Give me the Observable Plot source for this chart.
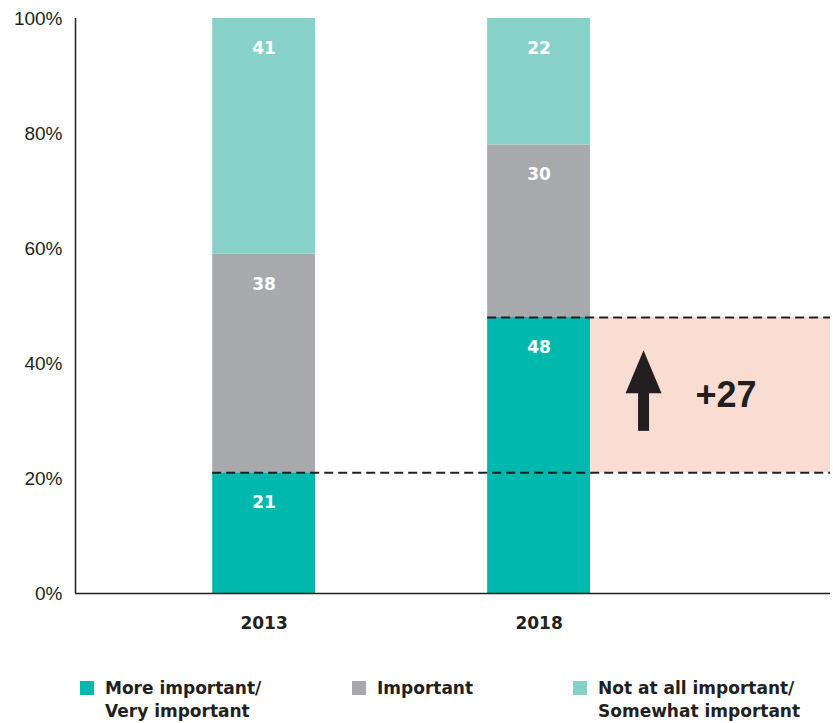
<!DOCTYPE html>
<html>
<head>
<meta charset="utf-8">
<script src="https://cdn.jsdelivr.net/npm/d3@7"></script>
<script src="https://cdn.jsdelivr.net/npm/@observablehq/plot@0.6"></script>
<style>
  html, body { margin: 0; padding: 0; background: #fff; }
  #wrap { position: relative; width: 833px; height: 723px; }
  #chart svg { display: block; }
  #legend { position: absolute; left: 0; top: 677px; width: 833px; font-family: "DejaVu Sans", sans-serif; font-weight: bold; font-size: 17px; color: #231f20; line-height: 23px; }
  .item { position: absolute; top: 0; }
  .sw { position: absolute; left: 0; top: 4px; width: 14px; height: 14px; }
  .lab { position: absolute; top: 0; white-space: nowrap; }
</style>
</head>
<body>
<div id="wrap">
  <div id="chart"></div>
  <div id="legend"></div>
</div>
<script>
// ---- data ----
const years = [2013, 2018];
const categories = ["More important/\nVery important", "Important", "Not at all important/\nSomewhat important"];
const moreImportant = [21, 48];
const important = [38, 30];
const notImportant = [41, 22];
const colors = ["#00b8ad", "#a7a9ac", "#88d1c9"];
const yTicks = [0, 20, 40, 60, 80, 100];

// ---- layout helpers ----
const series = [moreImportant, important, notImportant];
const X_DOMAIN = [2009.57, 2023.3];
const HALF = 0.935;

const rows = years.flatMap((yr, i) => {
  let acc = 0;
  return series.map((s, j) => {
    const v = s[i];
    const r = {year: yr, category: categories[j], value: v, y1: acc, y2: acc + v};
    acc += v;
    return r;
  });
});

const low = moreImportant[0], high = moreImportant[1];
const change = high - low;
const band = [{x1: years[1] + HALF, x2: X_DOMAIN[1], y1: low, y2: high}];
const dashes = [
  {y: low, x1: years[0] - HALF, x2: X_DOMAIN[1]},
  {y: high, x1: years[1] - HALF, x2: X_DOMAIN[1]}
];
const arrowX = 2019.9;
const mid = (low + high) / 2;
const arrowHead = {
  draw(ctx) {
    ctx.moveTo(0, 0);
    ctx.lineTo(-18, 43);
    ctx.lineTo(18, 43);
    ctx.closePath();
  }
};

const chart = Plot.plot({
  width: 833,
  height: 650,
  marginTop: 18,
  marginBottom: 57,
  marginLeft: 75,
  marginRight: 3,
  style: {background: "white", overflow: "visible"},
  x: {type: "linear", domain: X_DOMAIN, axis: null, label: null},
  y: {domain: [0, 100], axis: null, label: null},
  color: {domain: categories, range: colors},
  marks: [
    Plot.rect(band, {x1: "x1", x2: "x2", y1: "y1", y2: "y2", fill: "#f9ddd3", insetLeft: 1}),
    Plot.rect(rows, {x1: d => d.year - HALF, x2: d => d.year + HALF, y1: "y1", y2: "y2", fill: "category"}),
    Plot.ruleY(dashes, {y: "y", x1: "x1", x2: "x2", stroke: "#231f20", strokeWidth: 1.8, strokeDasharray: "9,5"}),
    Plot.text(rows, {x: "year", y: "y2", text: d => String(d.value), dy: 30, fill: "white",
      fontFamily: "DejaVu Sans", fontWeight: "bold", fontSize: 17}),
    Plot.ruleX([arrowX], {x: d => d, y1: low + 7.2, y2: high - 12.8, stroke: "#231f20", strokeWidth: 11}),
    Plot.dot([arrowX], {x: d => d, y: high - 5.7, symbol: arrowHead, fill: "#231f20", stroke: "none", r: 10}),
    Plot.text([change], {x: 2021.4, y: mid, text: d => "+" + d, fontFamily: "Liberation Sans", fontWeight: "bold",
      fontSize: 36, fill: "#231f20"}),
    Plot.ruleY([0], {stroke: "#231f20", strokeWidth: 1.5}),
    Plot.ruleX([X_DOMAIN[0]], {x: d => d, y1: 0, y2: 100, stroke: "#231f20", strokeWidth: 1.5}),
    Plot.axisY({ticks: yTicks, tickSize: 0, tickPadding: 13, tickFormat: d => d + "%",
      fontFamily: "Liberation Sans", fontSize: 19, fill: "#231f20", label: null}),
    Plot.axisX({ticks: years, tickSize: 0, tickPadding: 23, tickFormat: d => String(d),
      fontFamily: "DejaVu Sans", fontWeight: "bold", fontSize: 17, fill: "#231f20", label: null})
  ]
});
document.getElementById("chart").append(chart);

// ---- legend ----
const legend = document.getElementById("legend");
const legendX = [80, 352, 573];
categories.forEach((c, i) => {
  const item = document.createElement("div");
  item.className = "item";
  item.style.left = legendX[i] + "px";
  const sw = document.createElement("div");
  sw.className = "sw";
  sw.style.background = colors[i];
  const lab = document.createElement("div");
  lab.className = "lab";
  lab.style.left = "25px";
  lab.innerHTML = c.split("\n").join("<br>");
  item.append(sw, lab);
  legend.append(item);
});
</script>
</body>
</html>
